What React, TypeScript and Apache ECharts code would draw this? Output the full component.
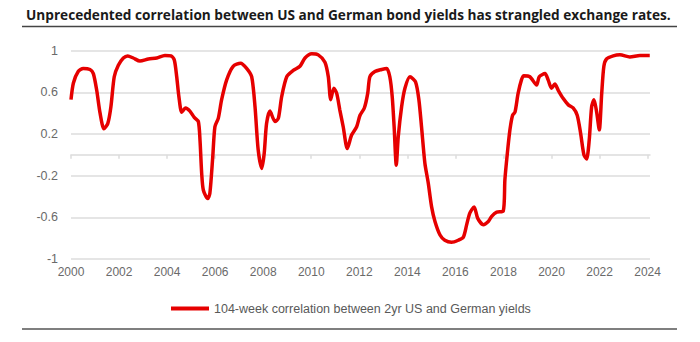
import React, { useEffect, useRef } from "react";
import * as echarts from "echarts";

const titleText = "Unprecedented correlation between US and German bond yields has strangled exchange rates.";
const seriesName = "104-week correlation between 2yr US and German yields";

const years = [
  2000.0, 2000.1, 2000.3, 2000.51, 2000.79, 2000.93, 2001.07, 2001.21, 2001.37, 2001.53,
  2001.66, 2001.8, 2001.97, 2002.18, 2002.36, 2002.59, 2002.87, 2003.22, 2003.57, 2003.91,
  2004.16, 2004.3, 2004.4, 2004.49, 2004.61, 2004.77, 2004.95, 2005.13, 2005.3, 2005.37,
  2005.44, 2005.51, 2005.69, 2005.78, 2005.9, 2005.99, 2006.13, 2006.27, 2006.48, 2006.75,
  2007.06, 2007.31, 2007.52, 2007.66, 2007.79, 2007.94, 2008.04, 2008.14, 2008.28, 2008.49,
  2008.63, 2008.77, 2008.98, 2009.25, 2009.53, 2009.74, 2010.02, 2010.29, 2010.57, 2010.71,
  2010.81, 2010.94, 2011.06, 2011.19, 2011.33, 2011.5, 2011.68, 2011.89, 2012.03, 2012.21,
  2012.35, 2012.44, 2012.65, 2012.93, 2013.14, 2013.27, 2013.37, 2013.45, 2013.54, 2013.62,
  2013.76, 2013.9, 2014.11, 2014.34, 2014.48, 2014.59, 2014.73, 2014.87, 2015.01, 2015.15,
  2015.36, 2015.56, 2015.84, 2016.12, 2016.33, 2016.47, 2016.6, 2016.78, 2016.93, 2017.16,
  2017.37, 2017.51, 2017.72, 2017.99, 2018.06, 2018.16, 2018.27, 2018.38, 2018.48, 2018.61,
  2018.75, 2018.85, 2019.1, 2019.38, 2019.49, 2019.73, 2019.86, 2020.0, 2020.14, 2020.28,
  2020.49, 2020.7, 2020.9, 2021.07, 2021.21, 2021.35, 2021.46, 2021.57, 2021.67, 2021.77,
  2021.88, 2021.99, 2022.09, 2022.18, 2022.29, 2022.57, 2022.85, 2023.26, 2023.68, 2024.09,
];

const correlation = [
  0.53, 0.69, 0.8, 0.83, 0.82, 0.78, 0.62, 0.4, 0.25, 0.3,
  0.46, 0.75, 0.86, 0.93, 0.95, 0.93, 0.9, 0.92, 0.93, 0.955,
  0.95, 0.91, 0.75, 0.56, 0.41, 0.45, 0.42, 0.36, 0.32, 0.14,
  -0.18, -0.34, -0.42, -0.37, -0.02, 0.27, 0.35, 0.53, 0.72, 0.85,
  0.88, 0.83, 0.75, 0.46, 0.05, -0.13, 0.01, 0.3, 0.42, 0.32,
  0.35, 0.56, 0.75, 0.81, 0.85, 0.93, 0.97, 0.96, 0.89, 0.75,
  0.53, 0.64, 0.59, 0.43, 0.27, 0.06, 0.19, 0.27, 0.38, 0.45,
  0.59, 0.75, 0.8, 0.82, 0.83, 0.75, 0.56, 0.27, -0.1, 0.17,
  0.46, 0.64, 0.75, 0.7, 0.53, 0.27, -0.08, -0.27, -0.5, -0.64,
  -0.77, -0.82, -0.84, -0.82, -0.79, -0.67, -0.56, -0.5, -0.61, -0.67,
  -0.64, -0.59, -0.55, -0.54, -0.24, 0.01, 0.24, 0.38, 0.41, 0.59,
  0.72, 0.76, 0.75, 0.67, 0.75, 0.78, 0.72, 0.64, 0.68, 0.62,
  0.54, 0.48, 0.45, 0.38, 0.21, 0.0, -0.04, 0.14, 0.46, 0.53,
  0.41, 0.24, 0.59, 0.85, 0.92, 0.95, 0.96, 0.94, 0.955, 0.955,
];

const tickYears = [2000, 2002, 2004, 2006, 2008, 2010, 2012, 2014, 2016, 2018, 2020, 2022, 2024];
const yTicks = [-1, -0.6, -0.2, 0.2, 0.6, 1];

const TITLE_FONT = "bold 15px 'Open Sans'";
const TITLE_WIDTH = 645;

function titleScale(): number {
  try {
    const c = document.createElement("canvas");
    const ctx = c.getContext("2d");
    if (!ctx) return 1;
    ctx.font = TITLE_FONT;
    const w = ctx.measureText(titleText).width;
    return w > 0 ? TITLE_WIDTH / w : 1;
  } catch (e) {
    return 1;
  }
}

export default function App() {
  const ref = useRef<HTMLDivElement>(null);
  useEffect(() => {
    if (!ref.current) return;
    const chart = echarts.init(ref.current, null, { renderer: "svg" });
    const data = years.map((y, i) => [y, correlation[i]]);
    const axisGrey = "#dcdcdc";
    const labelGrey = "#6a6a6a";
    const sx = titleScale();
    chart.setOption({
      animation: false,
      backgroundColor: "#ffffff",
      legend: {
        left: 166,
        top: 297,
        icon: "rect",
        itemWidth: 38,
        itemHeight: 4,
        textStyle: {
          fontFamily: "'Liberation Sans', Arial, sans-serif",
          fontSize: 12.5,
          color: "#595959",
        },
        data: [seriesName],
      },
      grid: { left: 71, top: 50.7, width: 579, height: 208.3, containLabel: false },
      xAxis: [
        {
          type: "value",
          min: 2000,
          max: 2024.1,
          position: "bottom",
          axisLine: { show: false, onZero: false },
          axisTick: { show: false },
          splitLine: { show: false },
          axisLabel: {
            customValues: tickYears,
            formatter: (v: number) => String(Math.round(v)),
            color: labelGrey,
            fontFamily: "'Liberation Sans', Arial, sans-serif",
            fontSize: 12,
            margin: 7,
          },
        },
        {
          type: "value",
          min: 2000,
          max: 2024.1,
          position: "bottom",
          axisLine: { show: true, onZero: true, lineStyle: { color: axisGrey, width: 1.5 } },
          axisTick: { show: true, customValues: tickYears, length: 4, lineStyle: { color: axisGrey, width: 1.5 } },
          axisLabel: { show: false },
          splitLine: { show: false },
        },
      ],
      yAxis: {
        type: "value",
        min: -1,
        max: 1,
        interval: 0.4,
        axisLine: { show: false },
        axisTick: { show: false },
        splitLine: { show: true, lineStyle: { color: axisGrey, width: 1.5 } },
        axisLabel: {
          customValues: yTicks,
          formatter: (v: number) => String(Math.round(v * 10) / 10),
          color: labelGrey,
          fontFamily: "'Liberation Sans', Arial, sans-serif",
          fontSize: 12.5,
          margin: 13,
        },
      },
      graphic: [
        {
          type: "text",
          x: 26,
          y: 14,
          scaleX: sx,
          style: {
            text: titleText,
            font: TITLE_FONT,
            fill: "#1a1a1a",
            verticalAlign: "middle",
            align: "left",
          },
        },
        { type: "line", shape: { x1: 22, y1: 26.5, x2: 677, y2: 26.5 }, style: { stroke: "#444444", lineWidth: 1.5 } },
        { type: "line", shape: { x1: 22, y1: 329, x2: 677, y2: 329 }, style: { stroke: "#555555", lineWidth: 1.5 } },
      ],
      series: [
        {
          name: seriesName,
          type: "line",
          xAxisIndex: 0,
          data,
          showSymbol: false,
          smooth: 0.25,
          lineStyle: { color: "#e60000", width: 3.5 },
          itemStyle: { color: "#e60000" },
        },
      ],
    });
    return () => chart.dispose();
  }, []);
  return (
    <div
      ref={ref}
      style={{ position: "fixed", left: 0, top: 0, width: 700, height: 342, background: "#fff" }}
    />
  );
}
